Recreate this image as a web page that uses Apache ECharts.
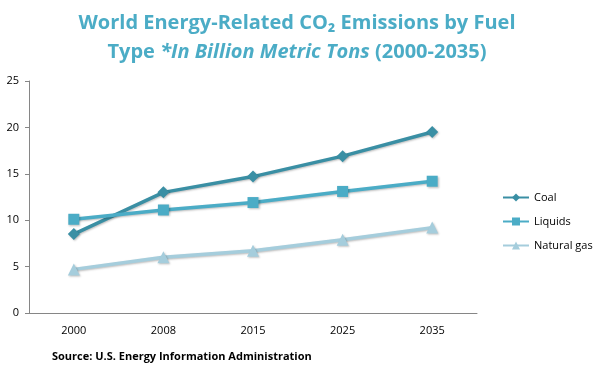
<!DOCTYPE html>
<html><head><meta charset="utf-8">
<script src="https://cdn.jsdelivr.net/npm/echarts@6/dist/echarts.min.js"></script>
<style>html,body{margin:0;padding:0;background:#fff}#c{width:594px;height:370px}</style>
</head><body><div id="c"></div>
<script>
var categories = ['2000','2008','2015','2025','2035'];
var coal = [8.5, 13.0, 14.7, 16.9, 19.5];
var liquids = [10.1, 11.1, 11.9, 13.1, 14.2];
var naturalGas = [4.7, 6.0, 6.7, 7.9, 9.2];
var seriesNames = ['Coal','Liquids','Natural gas'];
var yTicks = {min:0, max:25, interval:5};

var colors = ['#3A8FA4','#4BACC6','#A5CDDC'];
var font = 'Open Sans, Liberation Sans, sans-serif';
var chart = echarts.init(document.getElementById('c'));
function mk(name, data, sym, size, color){
  return {name:name, type:'line', data:data, symbol:sym, symbolSize:size, showSymbol:true,
    lineStyle:{width:3.5,color:color, shadowColor:'rgba(0,0,0,0.25)', shadowBlur:2, shadowOffsetX:1, shadowOffsetY:1},
    itemStyle:{color:color, shadowColor:'rgba(0,0,0,0.25)', shadowBlur:2, shadowOffsetX:1, shadowOffsetY:1},
    animation:false};
}
chart.setOption({
  animation:false,
  color:colors,
  title:[{text:'World Energy-Related CO\u2082 Emissions by Fuel\nType {i|*In Billion Metric Tons} (2000-2035)', left:'center', top:4,
    textStyle:{color:'#4BACC6', fontSize:20, fontWeight:'bold', fontFamily:font, lineHeight:29,
      rich:{i:{fontStyle:'italic', fontWeight:'bold', color:'#4BACC6', fontSize:20, fontFamily:font, lineHeight:29}}}},
    {text:'Source: U.S. Energy Information Administration', left:47, top:346,
     textStyle:{fontSize:11, fontWeight:'bold', color:'#000', fontFamily:font}}],
  grid:{left:29, right:117, top:81, bottom:57, containLabel:false},
  legend:{orient:'vertical', left:497, top:187, itemGap:13, itemWidth:26, itemHeight:10,
    textStyle:{fontSize:11, color:'#000', fontFamily:font}, data:seriesNames},
  xAxis:{type:'category', data:categories, boundaryGap:true,
    axisLine:{lineStyle:{color:'#868686', width:1}}, axisTick:{show:false},
    axisLabel:{color:'#000', fontSize:11, fontFamily:font, margin:12}},
  yAxis:{type:'value', min:yTicks.min, max:yTicks.max, interval:yTicks.interval,
    axisLine:{show:true, lineStyle:{color:'#868686'}}, axisTick:{show:true, length:4, inside:false, lineStyle:{color:'#868686'}},
    splitLine:{show:false}, axisLabel:{color:'#000', fontSize:11, fontFamily:font, margin:10}},
  series:[mk(seriesNames[0], coal, 'diamond', 12, colors[0]),
          mk(seriesNames[1], liquids, 'rect', 11, colors[1]),
          mk(seriesNames[2], naturalGas, 'triangle', 12, colors[2])]
});
</script></body></html>
